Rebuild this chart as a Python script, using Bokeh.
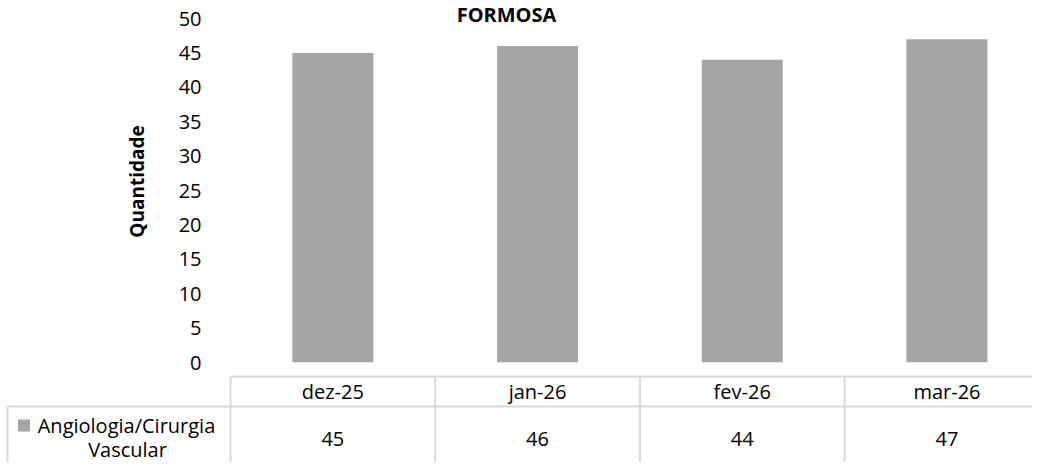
from bokeh.plotting import figure
from bokeh.layouts import column
from bokeh.models import Range1d, FixedTicker, ColumnDataSource
from bokeh.core.properties import value
from bokeh.embed import file_html
from bokeh.resources import INLINE

# ---- data ----
chart_title = "FORMOSA"
y_label = "Quantidade"
categories = ["dez-25", "jan-26", "fev-26", "mar-26"]
series_label_lines = ["Angiologia/Cirurgia", "Vascular"]
series_values = [45, 46, 44, 47]
y_ticks = [0, 5, 10, 15, 20, 25, 30, 35, 40, 45, 50]

# ---- style / layout ----
FONT = "Open Sans"
BAR_COLOR = "#a5a5a5"
LINE_COLOR = "#d9d9d9"
TEXT_COLOR = "#000000"
W = 1032
H = 462
COL_PX = 204.7          # width of one category column in pixels
LEFT_PX = 230           # space left of the plot frame
PX_PER_UNIT = 6.88      # pixels per y unit
FRAME_H = 362
H1 = 374

x_idx = [i + 0.5 for i in range(len(categories))]
x_end = (W - LEFT_PX) / COL_PX
x_start2 = -LEFT_PX / COL_PX
y_end = FRAME_H / PX_PER_UNIT

src = ColumnDataSource(dict(x=x_idx, top=series_values))

p = figure(width=W, height=H1, output_backend="svg", toolbar_location=None,
           x_range=Range1d(0, x_end), y_range=Range1d(0, y_end),
           x_axis_location=None, min_border_left=LEFT_PX, min_border_right=0,
           min_border_top=0, min_border_bottom=H1 - FRAME_H)
p.frame_align = False
p.title.visible = False
p.outline_line_color = None
p.grid.visible = False

p.vbar(x="x", top="top", width=81 / COL_PX, source=src,
       fill_color=BAR_COLOR, line_color=None)

ax = p.yaxis[0]
ax.ticker = FixedTicker(ticks=y_ticks)
ax.axis_line_color = None
ax.major_tick_line_color = None
ax.minor_tick_line_color = None
ax.major_label_standoff = 23
ax.major_label_text_font = FONT
ax.major_label_text_font_size = "20px"
ax.major_label_text_color = TEXT_COLOR
ax.axis_label = y_label
ax.axis_label_text_font = FONT
ax.axis_label_text_font_style = "bold"
ax.axis_label_text_font_size = "19px"
ax.axis_label_text_color = TEXT_COLOR
ax.axis_label_standoff = 26

p.text(x=[(506 - LEFT_PX) / COL_PX], y=[y_end - 14 / PX_PER_UNIT], text=[chart_title],
       text_align="center", text_baseline="middle", text_font=value(FONT),
       text_font_size="20px", text_font_style="bold", text_color=TEXT_COLOR)

# ---- data table ----
H2 = H - H1
p2 = figure(width=W, height=H2, output_backend="svg", toolbar_location=None,
            x_range=Range1d(x_start2, x_end), y_range=Range1d(H, H1),
            x_axis_location=None, y_axis_location=None,
            min_border_left=0, min_border_right=0, min_border_top=0, min_border_bottom=0)
p2.frame_align = False
p2.title.visible = False
p2.outline_line_color = None
p2.grid.visible = False

HEAD_TOP, ROW_TOP, BOTTOM = 376, 406, H
n = len(categories)
cell_left = (7 - LEFT_PX) / COL_PX
p2.segment(x0=[0, cell_left], x1=[x_end, x_end], y0=[HEAD_TOP, ROW_TOP], y1=[HEAD_TOP, ROW_TOP],
           line_color=LINE_COLOR, line_width=2)
p2.segment(x0=list(range(n)), x1=list(range(n)), y0=[HEAD_TOP] * n, y1=[BOTTOM] * n,
           line_color=LINE_COLOR, line_width=2)
p2.segment(x0=[cell_left], x1=[cell_left], y0=[ROW_TOP], y1=[BOTTOM],
           line_color=LINE_COLOR, line_width=2)

src2 = ColumnDataSource(dict(x=x_idx, cat=categories, lab=[str(v) for v in series_values],
                             yh=[391] * n, yv=[438] * n))
p2.text(x="x", y="yh", text="cat", source=src2, text_align="center", text_baseline="middle",
        text_font=value(FONT), text_font_size="20px", text_color=TEXT_COLOR)
p2.text(x="x", y="yv", text="lab", source=src2, text_align="center", text_baseline="middle",
        text_font=value(FONT), text_font_size="20px", text_color=TEXT_COLOR)

p2.text(x=[(126 - LEFT_PX) / COL_PX, (127 - LEFT_PX) / COL_PX], y=[425, 449], text=series_label_lines,
        text_align="center", text_baseline="middle", text_font=value(FONT),
        text_font_size="20px", text_color=TEXT_COLOR)
p2.rect(x=[(23.5 - LEFT_PX) / COL_PX], y=[425], width=12, height=12, width_units="screen",
        height_units="screen", fill_color=BAR_COLOR, line_color=None)

layout = column(p, p2, spacing=0)
open("out.html", "w").write(file_html(layout, INLINE))
